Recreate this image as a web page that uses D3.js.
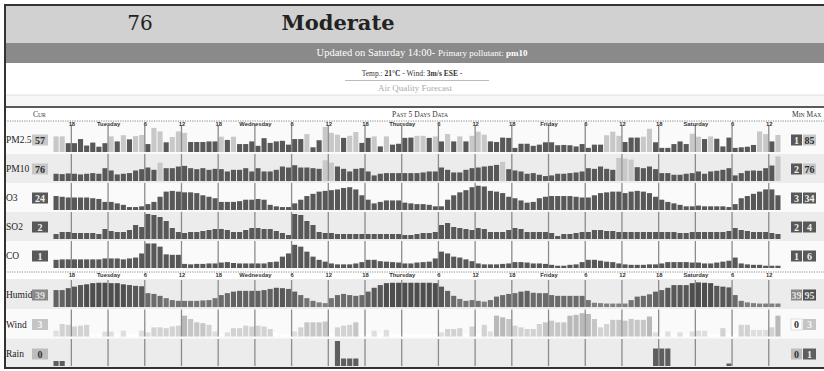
<!DOCTYPE html>
<html lang="en">
<head>
<meta charset="UTF-8">
<title>Air Quality - past 5 days</title>
<script src="https://d3js.org/d3.v7.min.js"></script>
<style>
  body { margin: 0; background: #fff; }
  svg { display: block; }
</style>
</head>
<body>
<svg id="aqi" width="824" height="371"></svg>
<script>
// ---- data (hourly, Monday 15:00 -> Saturday 13:00) ----
const rowNames = ["PM2.5", "PM10", "O3", "SO2", "CO", "Humid", "Wind", "Rain"];
const rowKinds = ["aqi", "aqi", "aqi", "aqi", "aqi", "humid", "wind", "rain"];
const currentVals = [57, 76, 24, 2, 1, 39, 3, 0];
const minVals = [1, 2, 3, 2, 1, 39, 0, 0];
const maxVals = [85, 76, 34, 4, 6, 95, 3, 1];
const floorVals = [0, 0, 0, 1.5, 0.5, 30, 0, 0];

const tickLabels = ["18", "Tuesday", "6", "12", "18", "Wednesday", "6", "12", "18", "Thursday",
  "6", "12", "18", "Friday", "6", "12", "18", "Saturday", "6", "12"];
const startHour = 15;

const pm25 = [53,53,30,30,44,22,32,18,30,
  53,36,57,43,54,58, 27,82,70,33,51,70, 65,34,34,34,36,36, 52,41,52,27,27,36,
  21,47,31,36,38,25, 44,44,61,16,40,85, 65,59,48,55,68,31, 48,53,19,53,25,28,
  48,49,55,55,48,53, 36,61,36,53,36,55, 69,59,36,34,49,48, 14,28,28,21,25,33,
  33,23,24,23,19,27, 14,25,25,57,69,55, 34,49,49,52,79,33, 14,14,27,36,27,62,
  52,44,53,45,19,49, 14,16,18,24,70,61, 36,58];
const pm10 = [22,21,23,22,20,22,24,22,39,
  32,20,22,24,32,36, 41,34,56,39,39,44, 46,39,36,39,34,37, 36,29,34,34,39,29,
  39,29,29,34,44,41, 48,41,41,39,37,63, 56,44,37,29,37,39, 29,17,22,24,24,24,
  24,24,24,26,29,29, 41,34,26,26,34,39, 41,44,46,49,58,36, 32,29,22,24,19,15,
  17,22,22,24,26,29, 39,37,44,37,34,70, 68,65,42,39,44,36, 24,24,19,19,22,24,
  29,22,29,31,34,39, 17,24,31,32,31,39, 47,75];
const o3 = [19,18,17,17,17,17,16,15,11,
  11,9,7,4,4,5, 8,11,18,25,26,25, 24,24,23,20,18,16, 11,11,11,12,14,14,
  15,14,7,5,4,4, 9,14,19,22,25,26, 27,28,30,31,28,20, 14,9,11,13,13,13,
  10,9,8,8,7,5, 5,14,20,24,27,31, 33,32,26,25,23,18, 16,13,10,11,16,18,
  19,19,19,19,18,17, 17,20,23,24,25,25, 23,25,26,25,23,18, 14,11,9,7,5,5,
  6,5,5,5,5,4, 8,16,19,22,25,28, 28,20];
const so2 = [2.0,2.2,2.2,2.1,2.1,2.1,2.1,2.0,2.5,
  2.3,2.2,2.2,2.4,2.9,2.7, 4.0,3.9,3.7,3.3,2.6,2.2, 2.1,2.2,2.2,2.3,2.4,2.5, 2.5,2.4,2.2,2.2,2.4,2.6,
  2.6,2.5,2.5,2.3,2.1,1.9, 4.0,3.9,3.3,2.9,2.2,2.1, 2.1,2.0,2.0,2.0,2.0,2.0, 2.0,2.0,2.0,2.0,2.0,2.0,
  1.9,1.9,2.0,2.1,2.1,2.2, 2.9,3.1,2.7,2.6,2.5,2.4, 2.6,2.5,2.2,2.2,2.2,2.4, 2.6,2.5,2.2,2.2,2.2,2.2,
  2.1,1.8,2.0,2.0,2.1,2.2, 2.2,2.4,2.4,2.3,2.3,2.2, 2.2,2.2,2.2,2.2,2.2,2.2, 2.2,2.2,2.2,2.1,2.1,2.2,
  2.2,2.2,2.2,2.2,2.2,2.3, 2.6,2.4,2.3,2.2,2.2,2.2, 2.1,2.0];
const co = [2.3,2.4,2.4,2.4,2.4,2.4,2.4,2.4,2.6,
  2.6,2.6,2.4,2.6,2.8,3.7, 5.9,5.9,5.2,3.5,3.4,3.4, 1.4,1.3,1.4,1.4,1.5,1.5, 1.7,1.8,1.6,1.5,1.5,1.5,
  1.5,1.5,1.8,1.9,3.0,3.7, 5.6,5.2,4.1,3.0,2.3,1.9, 1.5,1.3,1.3,1.3,1.5,1.8, 2.3,2.3,2.0,1.9,1.8,1.7,
  1.5,1.5,1.7,1.8,1.9,2.6, 4.1,3.7,3.0,2.8,2.4,2.0, 1.5,1.3,1.3,1.3,1.4,1.5, 1.8,1.8,1.7,1.5,1.5,1.4,
  1.2,1.0,1.0,1.2,1.3,1.8, 2.3,2.3,2.1,1.9,1.8,1.5, 1.3,1.2,1.2,1.2,1.3,1.3, 1.5,1.8,1.8,1.8,1.8,1.7,
  1.7,1.5,1.5,1.7,1.9,2.1, 2.8,1.5,1.3,1.2,1.2,1.0, 1.0,1.0];
const humid = [74,74,79,83,87,89,92,93,93,
  92,92,89,87,85,84, 66,64,59,53,48,46, 46,46,46,47,48,53, 61,66,70,72,72,72,
  72,74,77,80,79,77, 70,61,53,46,42,40, 53,61,64,61,59,61, 70,80,87,92,93,93,
  93,93,93,93,93,92, 83,72,59,51,46,48, 46,44,48,57,61,64, 66,70,72,67,66,66,
  61,59,59,59,59,59, 48,41,40,39,39,39, 39,48,57,59,63,70, 74,80,87,87,87,92,
  94,93,92,85,83,81, 61,46,42,40,39,39, 39,39];
const wind = [0.7,1.5,1.4,1.2,1.3,1.4,0.3,0.3,0.6,
  0.6,0.3,0.7,0.3,0.3,0.7, 0.5,1.1,1.1,1.0,1.2,1.3, 2.5,2.1,1.7,1.6,1.4,0.6, 0.3,0.5,1.0,1.0,1.3,1.2,
  1.3,1.2,0.9,0.4,0.3,0.3, 0.6,1.1,1.7,1.7,1.7,1.8, 0.3,1.1,1.3,1.4,1.7,0.3, 0.3,0.7,0.3,0.8,0.3,0.3,
  0.3,0.3,0.3,0.3,0.3,0.3, 0.5,0.9,0.9,1.0,0.3,1.2, 0.3,1.4,0.6,2.5,2.3,2.1, 1.3,1.1,0.9,0.9,1.5,1.7,
  1.9,1.7,1.7,2.5,2.6,2.8, 2.7,2.1,1.1,1.5,2.0,2.0, 1.9,2.1,2.0,2.0,2.4,0.5, 0.3,0.6,0.3,0.5,0.3,0.6,
  0.7,0.7,0.3,0.3,1.0,0.3, 0.3,1.4,1.4,0.8,0.8,0.8, 1.1,2.5];
const rain = [0.2,0.2,0,0,0,0,0,0,0,
  0,0,0,0,0,0, 0,0,0,0,0,0, 0,0,0,0,0,0, 0,0,0,0,0,0,
  0,0,0,0,0,0, 0,0,0,0,0,0, 0,1,0.3,0.3,0.3,0, 0,0,0,0,0,0,
  0,0,0,0,0,0, 0,0,0,0,0,0, 0,0,0,0,0,0, 0,0,0,0,0,0,
  0,0,0,0,0,0, 0,0,0,0,0,0, 0,0,0,0,0,0.7, 0.7,0.7,0,0,0,0,
  0,0,0,0,0,0.1, 0,0,0,0,0,0, 0,0];
const series = [pm25, pm10, o3, so2, co, humid, wind, rain];

// ---- colours ----
function fillFor(kind, v) {
  if (kind === "aqi") return v > 50 ? "#c8c8c8" : "#585858";
  if (kind === "humid") return v >= 88 ? "#4e4e4e" : v >= 78 ? "#585858" : v >= 68 ? "#626262"
    : v >= 56 ? "#6b6b6b" : v >= 46 ? "#747474" : "#808080";
  if (kind === "wind") return v >= 2.2 ? "#b9b9b9" : v >= 1.6 ? "#c6c6c6" : v >= 0.9 ? "#d2d2d2"
    : v >= 0.45 ? "#dedede" : "#ffffff";
  return v > 0 ? "#5e5e5e" : "#bdbdbd";
}
function boxFill(kind, v) {
  if (kind === "humid") return v >= 80 ? "#505050" : "#8a8a8a";
  if (kind === "wind") return v > 0 ? "#c4c4c4" : "#ffffff";
  return fillFor(kind, v);
}
function boxText(kind, v) {
  if (kind === "aqi") return v > 50 ? "#2a2a2a" : "#eeeeee";
  if (kind === "humid") return "#e2e2e2";
  if (kind === "wind") return v > 0 ? "#f6f6f6" : "#333";
  return v > 0 ? "#eeeeee" : "#333";
}

const svg = d3.select("#aqi");
const W = 824;
const serif = "'Liberation Serif', serif";

// ---- header ----
svg.append("rect").attr("x", 5).attr("y", 5).attr("width", W).attr("height", 38).attr("fill", "#d1d1d1");
svg.append("rect").attr("x", 5).attr("y", 43).attr("width", W).attr("height", 20).attr("fill", "#8a8a8a");
svg.append("text").attr("x", 140).attr("y", 30).attr("text-anchor", "middle")
  .attr("font-family", "'DejaVu Serif', serif").attr("font-size", 20).attr("fill", "#222").text(currentVals[1]);
svg.append("text").attr("x", 338).attr("y", 30).attr("text-anchor", "middle")
  .attr("font-family", "'DejaVu Serif', serif").attr("font-weight", "bold").attr("font-size", 21)
  .attr("fill", "#222").text("Moderate");

const upd = svg.append("text").attr("x", 422).attr("y", 56).attr("text-anchor", "middle")
  .attr("font-family", serif).attr("fill", "#fff");
upd.append("tspan").attr("font-size", 10.5).text("Updated on Saturday 14:00- ");
upd.append("tspan").attr("font-size", 9).text("Primary pollutant: ");
upd.append("tspan").attr("font-size", 9).attr("font-weight", "bold").text("pm10");

const tmp = svg.append("text").attr("x", 412).attr("y", 76).attr("text-anchor", "middle")
  .attr("font-family", serif).attr("font-size", 7.5).attr("fill", "#333");
tmp.append("tspan").text("Temp.: ");
tmp.append("tspan").attr("font-weight", "bold").text("21°C");
tmp.append("tspan").text(" - Wind: ");
tmp.append("tspan").attr("font-weight", "bold").text("3m/s ESE");
tmp.append("tspan").text(" -");
svg.append("line").attr("x1", 345).attr("x2", 489).attr("y1", 80.5).attr("y2", 80.5).attr("stroke", "#bbb");
svg.append("text").attr("x", 415).attr("y", 91).attr("text-anchor", "middle")
  .attr("font-family", serif).attr("font-size", 9).attr("fill", "#aaa").text("Air Quality Forecast");
svg.append("rect").attr("x", 5).attr("y", 95).attr("width", W).attr("height", 11).attr("fill", "#f7f7f7");
svg.append("line").attr("x1", 5).attr("x2", W).attr("y1", 95).attr("y2", 95).attr("stroke", "#e0e0e0");
svg.append("line").attr("x1", 5).attr("x2", W).attr("y1", 107).attr("y2", 107).attr("stroke", "#5a5a5a").attr("stroke-width", 2);

// small caps captions
function caps(x, y, anchor, words) {
  const t = svg.append("text").attr("x", x).attr("y", y).attr("text-anchor", anchor)
    .attr("font-family", serif).attr("fill", "#333");
  words.forEach((w, k) => {
    t.append("tspan").attr("font-size", 7.5).text((k ? " " : "") + w[0].toUpperCase());
    t.append("tspan").attr("font-size", 5.6).text(w.slice(1).toUpperCase());
  });
}
caps(33, 117, "start", ["Cur"]);
caps(420, 117, "middle", ["Past", "5", "days", "data"]);
caps(792, 117, "start", ["Min", "Max"]);

// ---- scales ----
const nHours = pm25.length;
const x = d3.scaleLinear().domain([0, nHours]).range([53, 781]);
const tickIdx = d3.range(nHours).filter(i => (startHour + i) % 6 === 0);
const barH = 25;
const rowBottom = r => r < 5 ? 152 + r * 29 : 307 + (r - 5) * 29.5;
const rowTop = r => r === 0 ? 121 : r === 5 ? 279 : rowBottom(r - 1) + 2;

// ---- rows ----
rowNames.forEach((name, r) => {
  const kind = rowKinds[r];
  const b = rowBottom(r);
  const g = svg.append("g");
  const y = d3.scaleLinear().domain([floorVals[r], maxVals[r]]).range([0, barH]);

  g.append("rect").attr("x", 5).attr("y", rowTop(r)).attr("width", W)
    .attr("height", rowBottom(r) + 2 - rowTop(r))
    .attr("fill", (r < 5 ? r % 2 : (r - 5) % 2 === 0) ? "#ececec" : "#fafafa");

  g.append("text").attr("x", 6).attr("y", b - 9).attr("font-family", serif)
    .attr("font-size", 9.5).attr("fill", "#222").text(name);

  const boxes = [
    { v: currentVals[r], x0: 32, w: 16 },
    { v: minVals[r], x0: 791, w: 11 },
    { v: maxVals[r], x0: 803, w: 13 }
  ];
  boxes.forEach(bx => {
    g.append("rect").attr("x", bx.x0).attr("y", b - 17.5).attr("width", bx.w).attr("height", 11)
      .attr("fill", boxFill(kind, bx.v))
      .attr("stroke", boxFill(kind, bx.v) === "#ffffff" ? "#ddd" : "none");
    g.append("text").attr("x", bx.x0 + bx.w / 2).attr("y", b - 8.5).attr("text-anchor", "middle")
      .attr("font-family", serif).attr("font-weight", "bold").attr("font-size", 10)
      .attr("fill", boxText(kind, bx.v)).text(bx.v);
  });

  const pts = series[r].map((v, i) => ({ v, i })).filter(d => kind !== "rain" || d.v > 0);
  g.selectAll("rect.bar").data(pts).enter().append("rect").attr("class", "bar")
    .attr("x", d => x(d.i) + 0.5)
    .attr("width", d => x(d.i + 1) - x(d.i) - 1)
    .attr("y", d => b - y(d.v))
    .attr("height", d => y(d.v))
    .attr("fill", d => fillFor(kind, d.v));

  g.selectAll("line.tick").data(tickIdx).enter().append("line").attr("class", "tick")
    .attr("x1", d => x(d)).attr("x2", d => x(d))
    .attr("y1", b - 27).attr("y2", b)
    .attr("stroke", "#8c8c8c").attr("stroke-width", 1.3);
});

// ---- hour axes ----
[121, 272].forEach(yy => {
  svg.append("line").attr("x1", 5).attr("x2", W).attr("y1", yy).attr("y2", yy)
    .attr("stroke", "#888").attr("stroke-dasharray", "1.2,1.2");
  const ax = svg.append("g").attr("transform", `translate(0,${yy + 1.2})`)
    .call(d3.axisBottom(x).tickValues(tickIdx).tickFormat((d, k) => tickLabels[k]).tickSize(0).tickPadding(0));
  ax.select(".domain").remove();
  ax.selectAll("text").attr("font-family", "'Liberation Sans', Arial, sans-serif")
    .attr("font-size", 5.8).attr("font-weight", "bold").attr("fill", "#333");
});

// ---- frame ----
svg.append("line").attr("x1", 5).attr("x2", 5).attr("y1", 4).attr("y2", 369).attr("stroke", "#333").attr("stroke-width", 2);
svg.append("line").attr("x1", 4).attr("x2", W).attr("y1", 5).attr("y2", 5).attr("stroke", "#333").attr("stroke-width", 2);
svg.append("line").attr("x1", 4).attr("x2", W).attr("y1", 368).attr("y2", 368).attr("stroke", "#333").attr("stroke-width", 2);
</script>
</body>
</html>
